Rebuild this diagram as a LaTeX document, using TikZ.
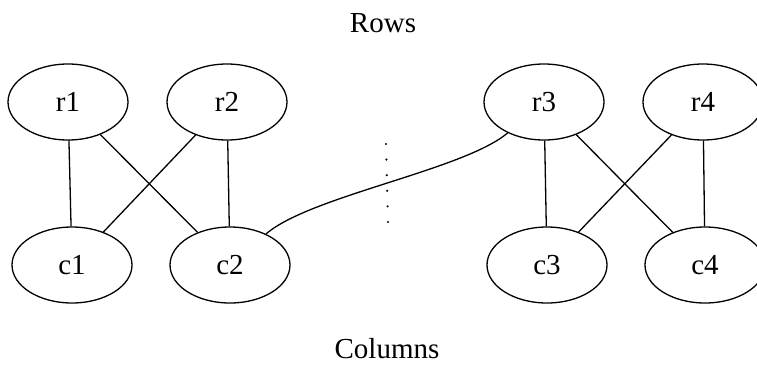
\documentclass[tikz,border=0pt]{standalone}
\usepackage{fontspec}
\setmainfont{Liberation Serif}
\usetikzlibrary{shapes.geometric}
\begin{document}
\begin{tikzpicture}[x=1pt,y=-1pt,
  vert/.style={ellipse,draw,line width=1.3pt,minimum width=120pt,minimum height=76pt,inner sep=0pt,font=\fontsize{29}{34}\selectfont},
  lbl/.style={anchor=base,inner sep=0pt,font=\fontsize{29}{34}\selectfont},
  edge/.style={line width=1.3pt}]
\useasboundingbox (0,0) rectangle (757,365);
\node[lbl] (rows) at (383,32) {Rows};
\node[lbl] (cols) at (387,358) {Columns};
\node[vert] (r1) at (68,102) {r1};
\node[vert] (r2) at (227,102) {r2};
\node[vert] (r3) at (544,102) {r3};
\node[vert] (r4) at (703,102) {r4};
\node[vert] (c1) at (72,265) {c1};
\node[vert] (c2) at (230,265) {c2};
\node[vert] (c3) at (547,265) {c3};
\node[vert] (c4) at (705,265) {c4};
\draw[edge] (r1) -- (c1);
\draw[edge] (r1) -- (c2);
\draw[edge] (r2) -- (c1);
\draw[edge] (r2) -- (c2);
\draw[edge] (r3) -- (c3);
\draw[edge] (r3) -- (c4);
\draw[edge] (r4) -- (c3);
\draw[edge] (r4) -- (c4);
\draw[edge] (c2) .. controls (310,196) and (464,170) .. (r3);
\coordinate (dtop) at (386,144);
\coordinate (dbot) at (388,222);
\draw[line width=2.4pt,line cap=round,dash pattern=on 0pt off 15.6pt] (dtop) -- (dbot);
\end{tikzpicture}
\end{document}
